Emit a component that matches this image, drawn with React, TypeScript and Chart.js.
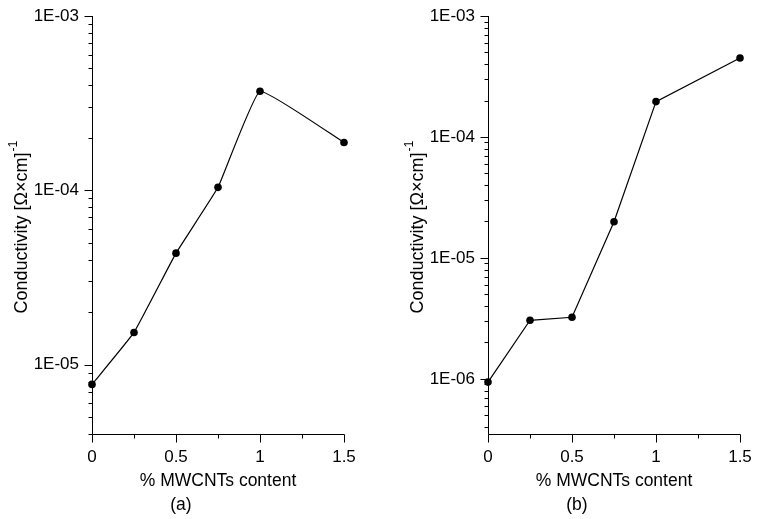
import React, { useEffect, useRef } from 'react';
import { Chart, registerables } from 'chart.js';

Chart.register(...registerables);

// ---- data ----
const mwcntContent = [0, 0.25, 0.5, 0.75, 1.0, 1.5];
const conductivityA = [7.7e-6, 1.53e-5, 4.36e-5, 1.04e-4, 3.7e-4, 1.88e-4];
const conductivityB = [9.4e-7, 3.05e-6, 3.23e-6, 1.99e-5, 1.96e-4, 4.5e-4];
const yMinA = 4e-6;
const yMinB = 3.5e-7;
const yMax = 1e-3;
const xMin = 0;
const xMax = 1.5;
const xTitle = '% MWCNTs content';
const yTitle = 'Conductivity [Ω×cm]';
const yTitleSup = '-1';
const panelLabels = ['(a)', '(b)'];

const FONT = '"Liberation Sans", Arial, Helvetica, sans-serif';
const W = 383;
const H = 519;

function fmtExp(v: number): string {
  const e = Math.round(Math.log10(v));
  const s = Math.abs(e).toString().padStart(2, '0');
  return `1E${e < 0 ? '-' : '+'}${s}`;
}

function makeDecor(label: string) {
  return {
    id: 'decor',
    afterDraw(chart: any) {
      const ctx = chart.ctx as CanvasRenderingContext2D;
      const { left, right, top, bottom } = chart.chartArea;
      const xs = chart.scales.x;
      const ys = chart.scales.y;
      ctx.save();
      ctx.strokeStyle = '#000';
      ctx.lineWidth = 1;
      // axis lines
      const lx = Math.round(left) + 0.5;
      const by = Math.round(bottom) + 0.5;
      ctx.beginPath();
      ctx.moveTo(lx, Math.round(top));
      ctx.lineTo(lx, by);
      ctx.lineTo(Math.round(right) + 0.5, by);
      ctx.stroke();
      // y ticks (log, major + minor)
      const lo = Math.floor(Math.log10(ys.min));
      const hi = Math.ceil(Math.log10(ys.max));
      for (let e = lo; e <= hi; e++) {
        for (let m = 1; m <= 9; m++) {
          const v = m * Math.pow(10, e);
          if (v < ys.min * 0.9999 || v > ys.max * 1.0001) continue;
          const y = Math.round(ys.getPixelForValue(v)) + 0.5;
          const len = m === 1 ? 8 : 4;
          ctx.beginPath();
          ctx.moveTo(lx - len, y);
          ctx.lineTo(lx, y);
          ctx.stroke();
        }
      }
      // x ticks
      for (let i = 0; ; i++) {
        const v = xs.min + i * 0.25;
        if (v > xs.max + 1e-9) break;
        const x = Math.round(xs.getPixelForValue(v)) + 0.5;
        const major = Math.abs(v / 0.5 - Math.round(v / 0.5)) < 1e-6;
        const len = major ? 8 : 4;
        ctx.beginPath();
        ctx.moveTo(x, by);
        ctx.lineTo(x, by + len);
        ctx.stroke();
      }
      // x title
      ctx.fillStyle = '#000';
      ctx.font = `17.5px ${FONT}`;
      ctx.textAlign = 'center';
      ctx.textBaseline = 'middle';
      ctx.fillText(xTitle, (left + right) / 2, bottom + 47);
      // panel label
      ctx.fillText(label, left + (right - left) * 0.353, bottom + 71);
      // y title with superscript
      ctx.save();
      ctx.translate(left - 70, (top + bottom) / 2 + 2);
      ctx.rotate(-Math.PI / 2);
      ctx.font = `18px ${FONT}`;
      const wm = ctx.measureText(yTitle).width;
      ctx.font = `12.5px ${FONT}`;
      const ws = ctx.measureText(yTitleSup).width;
      const start = -(wm + ws + 1) / 2;
      ctx.textAlign = 'left';
      ctx.font = `18px ${FONT}`;
      ctx.fillText(yTitle, start, 0);
      ctx.font = `12.5px ${FONT}`;
      ctx.fillText(yTitleSup, start + wm + 1, -8);
      ctx.restore();
      ctx.restore();
    },
  };
}

function Panel(props: {
  values: number[];
  yMin: number;
  yAxisWidth: number;
  rightPad: number;
  label: string;
  tension: number;
}) {
  const ref = useRef<HTMLCanvasElement | null>(null);
  useEffect(() => {
    if (!ref.current) return;
    const chart = new Chart(ref.current, {
      type: 'line',
      data: {
        datasets: [
          {
            data: mwcntContent.map((x, i) => ({ x, y: props.values[i] })),
            borderColor: '#000',
            backgroundColor: '#000',
            borderWidth: 1.2,
            pointRadius: 3.8,
            pointBackgroundColor: '#000',
            pointBorderWidth: 0,
            tension: props.tension,
            clip: false as any,
          },
        ],
      },
      options: {
        responsive: false,
        animation: false,
        layout: { padding: { top: 16, right: props.rightPad, left: 0, bottom: 0 } },
        plugins: { legend: { display: false }, tooltip: { enabled: false } },
        scales: {
          x: {
            type: 'linear',
            min: xMin,
            max: xMax,
            grid: { display: false, drawTicks: false },
            border: { display: false },
            ticks: {
              stepSize: 0.5,
              autoSkip: false,
              maxRotation: 0,
              padding: 13,
              color: '#000',
              font: { family: FONT, size: 17 },
              callback: (v: any) => String(Number(v)),
            },
            afterFit: (s: any) => {
              s.height = 85;
              s.paddingLeft = 0;
              s.paddingRight = 0;
            },
          },
          y: {
            type: 'logarithmic',
            min: props.yMin,
            max: yMax,
            grid: { display: false, drawTicks: false },
            border: { display: false },
            afterBuildTicks: (s: any) => {
              const t: any[] = [];
              for (let e = Math.ceil(Math.log10(props.yMin)); e <= Math.log10(yMax) + 1e-9; e++) {
                t.push({ value: Math.pow(10, e) });
              }
              s.ticks = t;
            },
            ticks: {
              autoSkip: false,
              padding: 13,
              color: '#000',
              font: { family: FONT, size: 17 },
              callback: (v: any) => fmtExp(Number(v)),
            },
            afterFit: (s: any) => {
              s.width = props.yAxisWidth;
              s.paddingTop = 0;
              s.paddingBottom = 0;
            },
          },
        },
      },
      plugins: [makeDecor(props.label)],
    });
    return () => chart.destroy();
  }, []);
  return <canvas ref={ref} width={W} height={H} style={{ width: W, height: H, display: 'block' }} />;
}

export default function App() {
  return (
    <div
      style={{
        position: 'fixed',
        left: 0,
        top: 0,
        width: 766,
        height: 519,
        background: '#fff',
        display: 'flex',
      }}
    >
      <Panel values={conductivityA} yMin={yMinA} yAxisWidth={92} rightPad={39} label={panelLabels[0]} tension={0.1} />
      <Panel values={conductivityB} yMin={yMinB} yAxisWidth={105} rightPad={26} label={panelLabels[1]} tension={0} />
    </div>
  );
}
